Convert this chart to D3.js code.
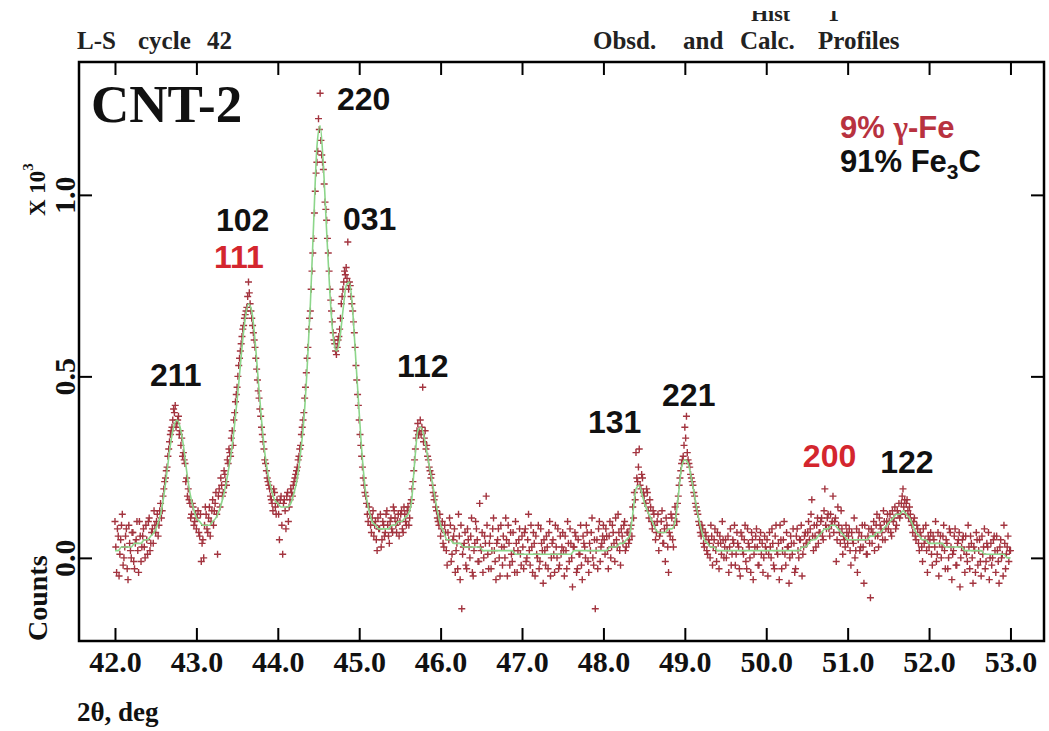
<!DOCTYPE html>
<html><head><meta charset="utf-8">
<script src="https://cdn.jsdelivr.net/npm/d3@7"></script>
<style>
html,body{margin:0;padding:0;background:#fff;}
svg{display:block;}
</style></head><body>
<svg id="chart" width="1049" height="731"></svg>
<script>
// ---------------- data ----------------
const twoThetaStart = 42.0;
const obsStep = 0.02;
const calcStep = 0.04;

// observed counts (x10^3) at 42.00, 42.02, ... 53.00 (one row per 0.5 deg)
const observed = [
 0.10,-0.04,0.06,0.01,0.09,-0.02,0.03,0.08,-0.06,0.04,0.00,0.07,-0.03,0.05,0.02,0.10,-0.01,0.06,0.03,0.09,0.01,0.11,0.04,0.08,0.13,
 0.07,0.12,0.09,0.15,0.13,0.19,0.22,0.25,0.30,0.34,0.36,0.41,0.42,0.37,0.39,0.35,0.33,0.29,0.26,0.22,0.19,0.15,0.12,0.14,0.10,
 0.08,0.13,0.06,-0.01,0.05,0.09,0.12,0.07,0.14,0.10,0.16,0.13,0.18,0.01,0.19,0.22,0.17,0.24,0.21,0.27,0.30,0.28,0.35,0.38,0.43,
 0.47,0.53,0.57,0.61,0.64,0.67,0.69,0.76,0.70,0.66,0.62,0.58,0.52,0.46,0.41,0.36,0.32,0.27,0.24,0.21,0.19,0.16,0.13,0.18,0.12,
 0.15,0.05,0.17,0.01,0.16,0.08,0.18,0.14,0.19,0.17,0.21,0.23,0.25,0.28,0.31,0.36,0.40,0.47,0.55,0.63,0.68,0.79,0.88,1.01,1.09,
 1.21,1.28,1.11,1.07,0.98,0.93,0.84,0.74,0.68,0.62,0.59,0.56,0.60,0.63,0.70,0.74,0.79,0.80,0.87,0.76,0.72,0.68,0.62,0.53,0.45,
 0.38,0.31,0.25,0.20,0.17,0.12,0.14,0.09,0.11,0.06,0.10,0.02,0.08,0.12,0.05,0.09,0.07,0.13,0.06,0.10,0.08,0.14,0.11,0.07,0.12,
 0.10,0.13,0.07,0.12,0.09,0.14,0.11,0.16,0.21,0.27,0.33,0.37,0.35,0.34,0.47,0.33,0.30,0.28,0.25,0.22,0.20,0.16,0.14,0.11,0.09,
 0.06,0.10,0.03,0.07,-0.02,0.05,0.09,0.01,0.06,-0.04,0.04,0.12,-0.06,-0.14,0.03,0.07,-0.03,0.05,0.00,0.11,-0.05,0.04,0.08,-0.01,0.15,
 0.02,-0.04,0.06,0.17,0.01,0.04,-0.03,0.08,0.02,-0.06,0.05,0.00,0.09,-0.02,0.03,0.11,-0.05,0.04,0.07,-0.01,0.02,0.10,-0.04,0.05,0.01,
 0.06,-0.03,0.08,0.00,0.12,-0.02,0.03,0.07,-0.05,0.01,0.09,-0.01,0.04,-0.07,0.02,0.06,-0.03,0.10,0.00,0.05,-0.04,0.03,0.08,-0.02,0.01,
 0.07,-0.05,0.02,0.10,-0.01,0.04,-0.08,0.03,0.06,-0.03,0.01,0.09,-0.06,0.04,0.00,0.07,-0.04,0.02,0.11,-0.02,-0.14,0.05,0.08,-0.01,0.04,
 0.09,0.01,0.06,-0.03,0.10,0.03,0.07,-0.01,0.05,0.12,0.02,0.08,0.04,0.10,0.03,0.07,0.05,0.09,0.14,0.18,0.29,0.21,0.30,0.19,0.22,
 0.17,0.15,0.18,0.11,0.14,0.08,0.12,0.05,0.10,0.02,0.07,0.13,0.04,-0.01,0.09,-0.04,0.06,0.11,0.03,0.14,0.10,0.17,0.22,0.26,0.28,
 0.36,0.39,0.27,0.25,0.22,0.20,0.17,0.14,0.12,0.09,0.06,0.08,0.03,0.06,0.01,0.04,0.09,-0.02,0.05,0.02,0.07,-0.03,0.04,0.10,0.00,
 0.05,0.02,-0.04,0.08,0.01,0.04,-0.02,0.07,0.03,-0.05,0.06,0.01,0.09,-0.03,0.04,0.00,0.07,-0.06,0.03,0.08,-0.02,0.05,0.01,-0.04,0.06,
 0.02,-0.05,0.07,0.00,0.04,-0.03,0.09,0.01,-0.06,0.05,0.02,0.10,-0.02,0.03,-0.07,0.06,0.01,0.04,-0.03,0.08,0.00,0.05,-0.05,0.03,0.07,
 0.04,0.10,0.08,0.16,0.02,0.06,0.09,0.04,0.07,0.11,0.05,0.19,0.08,0.12,0.06,0.09,0.17,0.10,-0.01,0.14,0.07,0.13,0.01,0.05,0.09,
 0.04,0.08,-0.02,0.05,0.11,0.02,-0.04,0.07,0.03,0.09,-0.07,0.05,0.01,0.08,-0.11,0.04,0.10,0.06,0.12,0.03,0.09,0.07,0.13,0.05,0.10,
 0.08,0.12,0.06,0.10,0.14,0.09,0.12,0.11,0.15,0.19,0.16,0.15,0.13,0.14,0.10,0.07,0.11,0.05,0.08,0.02,0.06,-0.01,0.04,0.09,-0.04,
 0.03,0.07,-0.02,0.05,0.10,0.01,-0.05,0.06,0.03,0.09,-0.03,0.04,0.00,0.07,-0.06,0.02,0.08,-0.02,0.05,-0.08,0.03,0.06,-0.04,0.01,0.09,
 -0.03,0.04,-0.07,0.02,0.07,-0.02,0.05,-0.05,0.01,0.08,-0.01,0.03,-0.06,0.04,0.00,0.06,-0.04,0.02,-0.07,0.05,0.01,0.09,-0.03,0.03,-0.01,0.02
];

// interleaved observed counts (x10^3) at 42.01, 42.03, ... 52.99
const observedOffsetStart = 42.01;
const observedOffset = [
 0.03,0.08,-0.05,0.05,0.12,0.00,0.06,-0.03,0.09,0.02,0.07,-0.01,0.04,0.10,-0.04,0.06,0.03,0.08,0.00,0.05,0.10,0.02,0.07,0.04,0.09,
 0.10,0.06,0.13,0.11,0.17,0.21,0.24,0.28,0.32,0.35,0.38,0.40,0.36,0.38,0.34,0.31,0.28,0.27,0.21,0.17,0.16,0.11,0.15,0.09,0.12,
 0.11,0.07,0.12,0.04,0.00,0.14,0.08,0.11,0.06,0.13,0.09,0.15,0.12,0.17,0.14,0.20,0.18,0.23,0.20,0.26,0.29,0.33,0.31,0.40,0.45,
 0.50,0.55,0.59,0.63,0.66,0.68,0.72,0.73,0.68,0.64,0.60,0.55,0.49,0.44,0.39,0.34,0.30,0.26,0.22,0.20,0.17,0.15,0.19,0.14,0.16,
 0.12,0.16,0.09,0.15,0.13,0.17,0.10,0.16,0.18,0.20,0.22,0.24,0.27,0.30,0.34,0.38,0.44,0.51,0.58,0.66,0.74,0.84,0.95,1.06,1.12,
 1.18,1.15,1.09,1.03,0.96,0.88,0.79,0.71,0.65,0.60,0.57,0.58,0.61,0.66,0.72,0.76,0.78,0.77,0.74,0.75,0.70,0.65,0.58,0.49,0.42,
 0.34,0.28,0.22,0.18,0.15,0.10,0.12,0.07,0.13,0.09,0.05,0.11,0.08,0.03,0.10,0.06,0.12,0.09,0.04,0.11,0.07,0.13,0.09,0.10,0.06,
 0.12,0.08,0.14,0.10,0.13,0.09,0.15,0.19,0.24,0.30,0.35,0.34,0.38,0.36,0.32,0.35,0.31,0.27,0.24,0.23,0.18,0.17,0.13,0.10,0.12,
 0.08,0.04,0.09,0.02,0.07,0.11,-0.01,0.05,0.08,0.02,-0.03,0.06,0.09,0.01,0.04,-0.02,0.08,0.03,0.06,-0.04,0.02,0.10,0.05,-0.01,0.03,
 0.07,0.00,0.04,0.09,-0.03,0.06,0.02,0.11,-0.01,0.04,0.08,-0.05,0.03,0.06,0.00,0.05,0.09,-0.02,0.01,0.07,-0.04,0.04,0.02,0.08,-0.02,
 0.03,0.07,-0.01,0.05,0.02,0.09,-0.04,0.04,0.06,0.00,-0.03,0.08,0.02,0.05,-0.02,0.03,0.07,-0.05,0.04,0.01,0.09,0.00,-0.03,0.06,0.03,
 0.02,0.06,-0.03,0.04,0.08,0.00,0.03,0.07,-0.04,0.05,0.01,-0.02,0.06,0.03,0.09,-0.01,0.04,0.07,0.00,0.05,0.02,-0.03,0.10,0.03,0.06,
 0.05,0.08,0.02,0.06,0.00,0.09,0.04,0.11,0.03,0.07,-0.02,0.06,0.09,0.02,0.07,0.04,0.08,0.06,0.11,0.16,0.22,0.25,0.20,0.23,0.18,
 0.15,0.19,0.13,0.16,0.10,0.13,0.09,0.07,0.12,0.06,0.10,0.04,0.08,0.11,0.03,0.07,0.12,0.05,0.09,0.12,0.15,0.20,0.24,0.27,0.31,
 0.33,0.29,0.26,0.23,0.21,0.18,0.15,0.13,0.10,0.07,0.09,0.04,0.07,0.02,0.05,0.00,0.06,0.03,0.08,-0.01,0.04,0.06,0.01,0.05,0.03,
 0.00,0.06,0.03,-0.02,0.05,0.09,0.01,0.04,-0.03,0.07,0.02,0.05,-0.01,0.08,0.03,-0.04,0.05,0.01,0.06,0.03,-0.02,0.07,0.04,0.00,0.03,
 0.05,0.01,0.03,0.08,-0.02,0.06,0.02,0.04,0.09,-0.03,0.05,0.01,0.07,0.03,0.00,0.04,0.08,-0.04,0.06,0.02,0.05,0.09,0.01,0.06,0.04,
 0.07,0.05,0.12,0.06,0.09,0.03,0.11,0.07,0.10,0.06,0.13,0.09,0.11,0.08,0.12,0.10,0.07,0.11,0.05,0.09,0.04,0.08,0.06,0.03,0.07,
 0.06,0.02,0.07,0.04,0.00,0.08,0.05,0.02,0.06,0.03,0.09,0.01,0.06,0.04,0.08,0.07,0.02,0.09,0.06,0.11,0.08,0.05,0.10,0.08,0.12,
 0.10,0.07,0.13,0.11,0.08,0.13,0.15,0.12,0.17,0.14,0.12,0.16,0.11,0.12,0.09,0.10,0.06,0.09,0.04,0.07,0.03,0.08,0.05,0.02,0.06,
 0.05,0.01,0.06,0.03,-0.01,0.07,0.04,0.00,0.06,0.02,0.05,-0.03,0.08,0.03,0.01,0.06,-0.02,0.04,0.07,0.00,0.05,0.02,0.06,-0.01,0.03,
 0.06,0.00,0.03,-0.04,0.05,0.02,-0.01,0.06,0.03,-0.03,0.04,0.07,0.00,-0.02,0.05,0.02,0.06,-0.01,0.03,0.00,-0.05,0.04,0.01,0.06,0.02
];

// calculated profile (x10^3), one row per degree, step 0.04 deg
const calculated = [
 0.02,0.02,0.03,0.03,0.03,0.03,0.04,0.04,0.04,0.05,0.05,0.06,0.07,0.09,0.12,0.17,0.24,0.31,0.36,0.38,0.36,0.31,0.24,0.18,0.14,
 0.11,0.10,0.09,0.09,0.09,0.10,0.11,0.13,0.16,0.20,0.25,0.31,0.39,0.48,0.58,0.66,0.70,0.68,0.60,0.49,0.38,0.29,0.23,0.19,0.16,
 0.15,0.14,0.14,0.14,0.15,0.18,0.22,0.29,0.38,0.52,0.70,0.92,1.13,1.19,1.08,0.90,0.73,0.61,0.57,0.60,0.68,0.75,0.76,0.68,0.54,
 0.40,0.27,0.18,0.13,0.10,0.09,0.08,0.08,0.08,0.08,0.09,0.09,0.10,0.10,0.11,0.12,0.15,0.26,0.35,0.36,0.33,0.28,0.23,0.18,0.13,
 0.09,0.07,0.05,0.05,0.04,0.04,0.04,0.03,0.03,0.03,0.03,0.03,0.03,0.02,0.02,0.02,0.02,0.02,0.02,0.02,0.02,0.02,0.02,0.01,0.01,
 0.01,0.01,0.01,0.01,0.01,0.01,0.01,0.01,0.01,0.01,0.01,0.01,0.01,0.01,0.01,0.01,0.02,0.02,0.02,0.02,0.02,0.02,0.02,0.02,0.02,
 0.02,0.02,0.03,0.03,0.03,0.04,0.04,0.05,0.06,0.12,0.19,0.20,0.17,0.14,0.12,0.10,0.08,0.07,0.07,0.07,0.08,0.08,0.10,0.17,0.25,
 0.27,0.26,0.22,0.17,0.12,0.08,0.05,0.04,0.03,0.03,0.02,0.02,0.02,0.02,0.02,0.02,0.02,0.02,0.02,0.02,0.02,0.02,0.02,0.02,0.02,
 0.02,0.02,0.02,0.02,0.02,0.02,0.02,0.02,0.02,0.02,0.02,0.03,0.03,0.04,0.05,0.05,0.06,0.07,0.08,0.08,0.09,0.09,0.08,0.07,0.06,
 0.05,0.05,0.05,0.05,0.05,0.05,0.05,0.06,0.06,0.07,0.07,0.08,0.09,0.10,0.11,0.12,0.12,0.13,0.12,0.11,0.09,0.07,0.06,0.05,0.05,
 0.04,0.04,0.04,0.04,0.04,0.03,0.03,0.03,0.03,0.03,0.03,0.02,0.02,0.02,0.02,0.02,0.02,0.01,0.01,0.01,0.01,0.01,0.01,0.01,0.00,
 0.00
];

const xTicks = [42, 43, 44, 45, 46, 47, 48, 49, 50, 51, 52, 53];
const yTicks = [0.0, 0.5, 1.0];
const xDomain = [41.558, 53.412];
const yDomain = [-0.229, 1.366];

const peakNames  = ["211", "102", "111", "220", "031", "112", "131", "221", "200", "122"];
const peakPhases = ["Fe3C", "Fe3C", "gFe", "Fe3C", "Fe3C", "Fe3C", "Fe3C", "Fe3C", "gFe", "Fe3C"];
// label anchor (2theta, counts) in data units
const peakLabelTheta  = [42.43, 43.24, 43.216, 44.727, 44.801, 45.464, 47.81, 48.72, 50.45, 51.40];
const peakLabelCounts = [0.474, 0.90, 0.799, 1.234, 0.904, 0.499, 0.344, 0.419, 0.251, 0.234];

// ---------------- layout / style ----------------
const M = {left: 79, right: 1044, top: 62, bottom: 641};
const SERIF = "'Liberation Serif','Times New Roman',serif";
const SANS = "'Liberation Sans',Arial,sans-serif";
const GREEN = "#8cd68a";
const MARK = "#a3343f";

const svg = d3.select("#chart");
const x = d3.scaleLinear().domain(xDomain).range([M.left, M.right]);
const y = d3.scaleLinear().domain(yDomain).range([M.bottom, M.top]);

const obsPts = observed.map((v, i) => ({t: +(twoThetaStart + i * obsStep).toFixed(2), v}))
  .concat(observedOffset.map((v, i) => ({t: +(observedOffsetStart + i * obsStep).toFixed(2), v})));
const calcPts = calculated.map((v, i) => ({t: +(twoThetaStart + i * calcStep).toFixed(2), v}));

const defs = svg.append("defs");
defs.append("clipPath").attr("id", "plotclip")
  .append("rect").attr("x", M.left).attr("y", M.top)
  .attr("width", M.right - M.left).attr("height", M.bottom - M.top);
defs.append("clipPath").attr("id", "topclip")
  .append("rect").attr("x", 0).attr("y", 11).attr("width", 1049).attr("height", 15);

const plot = svg.append("g").attr("clip-path", "url(#plotclip)");

// observed markers
plot.append("g").selectAll("path").data(obsPts).join("path")
  .attr("transform", d => `translate(${x(d.t)},${y(d.v)})`)
  .attr("d", "M-3.5,0H3.5M0,-3.5V3.5")
  .attr("stroke", MARK).attr("stroke-width", 1.4).attr("fill", "none");

// calculated line
plot.append("path").datum(calcPts)
  .attr("d", d3.line().x(d => x(d.t)).y(d => y(d.v)).curve(d3.curveMonotoneX))
  .attr("fill", "none").attr("stroke", GREEN).attr("stroke-width", 1.6);

// axes
function styleAxis(g) {
  g.select(".domain").remove();
  g.selectAll(".tick line").attr("stroke", "#000").attr("stroke-width", 2);
}
svg.append("g").attr("transform", `translate(0,${M.bottom})`)
  .call(d3.axisBottom(x).tickValues(xTicks).tickSize(-13).tickPadding(10).tickFormat(d3.format(".1f")))
  .call(styleAxis)
  .call(g => g.selectAll("text").attr("font-family", SERIF).attr("font-weight", "bold")
    .attr("font-size", 30).attr("fill", "#111"));
svg.append("g").attr("transform", `translate(0,${M.top})`)
  .call(d3.axisTop(x).tickValues(xTicks).tickSize(-13).tickFormat(""))
  .call(styleAxis);
svg.append("g").attr("transform", `translate(${M.left},0)`)
  .call(d3.axisLeft(y).tickValues(yTicks).tickSize(-13).tickFormat(d3.format(".1f")))
  .call(styleAxis)
  .call(g => g.selectAll("text").attr("x", null).attr("dy", null)
    .attr("transform", "translate(-4,0) rotate(-90)").attr("text-anchor", "middle")
    .attr("font-family", SERIF).attr("font-weight", "bold").attr("font-size", 30).attr("fill", "#111"));
svg.append("g").attr("transform", `translate(${M.right},0)`)
  .call(d3.axisRight(y).tickValues(yTicks).tickSize(-13).tickFormat(""))
  .call(styleAxis);

// frame
svg.append("rect").attr("x", M.left).attr("y", M.top)
  .attr("width", M.right - M.left).attr("height", M.bottom - M.top)
  .attr("fill", "none").attr("stroke", "#000").attr("stroke-width", 2.5);

// header texts
const hdr = svg.append("g").attr("font-family", SERIF).attr("font-weight", "bold")
  .attr("font-size", 25).attr("fill", "#222");
const hdrWords = [["L-S", 77, 49], ["cycle", 138, 49], ["42", 207, 49],
                  ["Obsd.", 593, 49], ["and", 683, 49], ["Calc.", 740, 49], ["Profiles", 818, 49]];
hdr.selectAll("text.w").data(hdrWords).join("text").attr("class", "w")
  .attr("x", d => d[1]).attr("y", d => d[2]).text(d => d[0]);
const hist = hdr.append("g").attr("clip-path", "url(#topclip)").attr("font-size", 22);
hist.append("text").attr("x", 751).attr("y", 21).text("Hist");
hist.append("text").attr("x", 828).attr("y", 21).text("1");

// axis titles
svg.append("text").attr("x", 77).attr("y", 721).attr("font-family", SERIF).attr("font-weight", "bold")
  .attr("font-size", 27).attr("fill", "#111").text("2θ, deg");
svg.append("text").attr("transform", "translate(47,641) rotate(-90)")
  .attr("font-family", SERIF).attr("font-weight", "bold").attr("font-size", 28).attr("fill", "#111").text("Counts");
const xt = svg.append("text").attr("transform", "translate(45,216) rotate(-90)")
  .attr("font-family", SERIF).attr("font-weight", "bold").attr("font-size", 23).attr("fill", "#111");
xt.append("tspan").attr("xml:space", "preserve").text("X 10");
xt.append("tspan").attr("font-size", 15).attr("dy", -12).text("3");

// sample name
svg.append("text").attr("x", 91).attr("y", 122).attr("font-family", SERIF).attr("font-weight", "bold")
  .attr("font-size", 53).attr("fill", "#111").text("CNT-2");

// phase legend
const leg = svg.append("g").attr("font-family", SANS).attr("font-weight", "bold").attr("font-size", 31);
const l1 = leg.append("text").attr("x", 840).attr("y", 138).attr("fill", "#b8323f");
l1.append("tspan").text("9% ");
l1.append("tspan").attr("font-family", SERIF).text("γ");
l1.append("tspan").text("-Fe");
const l2 = leg.append("text").attr("x", 840).attr("y", 172).attr("fill", "#111");
l2.append("tspan").text("91% Fe");
l2.append("tspan").attr("font-size", 21).attr("dy", 7).text("3");
l2.append("tspan").attr("dy", -7).text("C");

// peak labels
svg.append("g").selectAll("text").data(peakNames).join("text")
  .attr("x", (d, i) => x(peakLabelTheta[i]))
  .attr("y", (d, i) => y(peakLabelCounts[i]))
  .attr("font-family", SANS).attr("font-weight", "bold").attr("font-size", 32)
  .attr("fill", (d, i) => peakPhases[i] === "gFe" ? "#d4262e" : "#111")
  .text(d => d);
</script>
</body></html>
